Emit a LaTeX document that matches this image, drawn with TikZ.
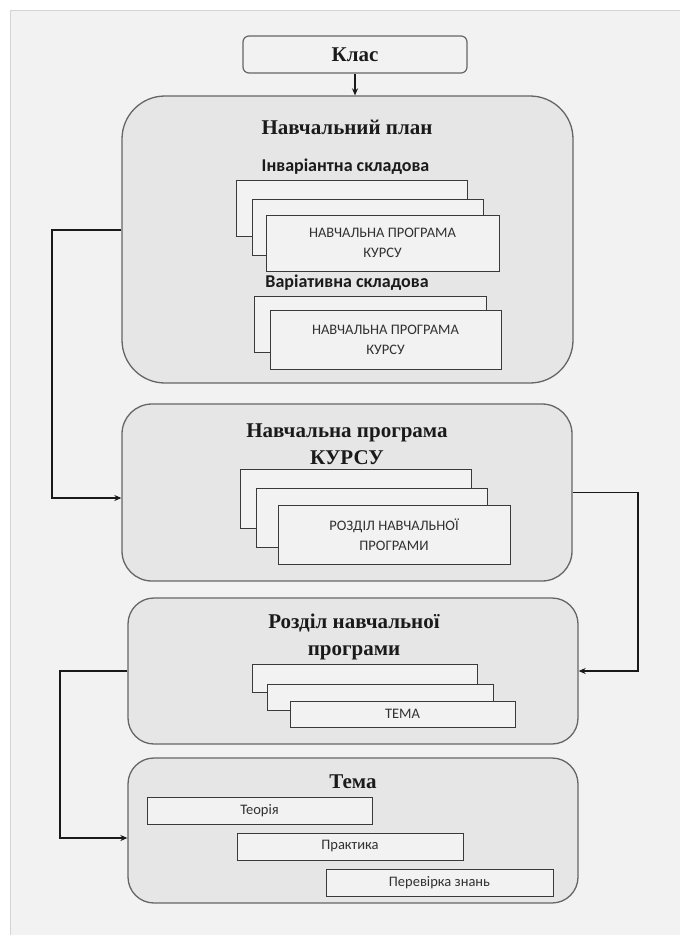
\documentclass[tikz,border=0pt]{standalone}
\usepackage{fontspec}
\setmainfont{Liberation Serif}
\newfontfamily\calib{Carlito}
\usetikzlibrary{arrows.meta}
\definecolor{panel}{HTML}{F2F2F2}
\definecolor{panelborder}{HTML}{D4D4D4}
\definecolor{bigfill}{HTML}{E6E6E6}
\definecolor{bigdraw}{HTML}{666666}
\definecolor{smallfill}{HTML}{F2F2F2}
\definecolor{smalldraw}{HTML}{3A3A3A}
\definecolor{txt}{HTML}{1A1A1A}
\tikzset{
  bigbox/.style={draw=bigdraw, fill=bigfill, line width=1.3pt, minimum width=#1, inner sep=0pt},
  smallbox/.style={draw=smalldraw, fill=smallfill, line width=1pt, inner sep=0pt, align=center,
     font=\calib\fontsize{14.5}{20}\selectfont, text=txt!90},
  titletext/.style={font=\bfseries\fontsize{21}{27}\selectfont, text=txt, align=center, inner sep=0pt},
  subtext/.style={font=\calib\bfseries\fontsize{18}{20}\selectfont, text=txt, inner sep=0pt},
  conn/.style={draw=black!90, line width=1.8pt, -{Stealth[length=7pt,width=6pt]}},
}
\begin{document}
\begin{tikzpicture}[x=1pt,y=-1pt]
\useasboundingbox (0,0) rectangle (680,935);
\fill[white] (0,0) rectangle (680,935);
\draw[panelborder, fill=panel, line width=1pt] (10,10) rectangle (700,960);

% top box
\node[draw=bigdraw, fill=smallfill, line width=1.2pt, rounded corners=6pt, minimum width=224pt, minimum height=37pt, inner sep=0pt,
      font=\bfseries\fontsize{21}{24}\selectfont, text=txt] (klas) at (355,54.5) {Клас};

% big boxes
\node[bigbox=451pt, minimum height=287pt, rounded corners=43pt] (B1) at (347.5,239.5) {};
\node[bigbox=450pt, minimum height=177pt, rounded corners=30pt] (B2) at (347,492.5) {};
\node[bigbox=450pt, minimum height=146pt, rounded corners=26pt] (B3) at (353,671) {};
\node[bigbox=450pt, minimum height=145pt, rounded corners=26pt] (B4) at (353,830.5) {};

% box 1 content
\node[titletext] (t1) at (347,127) {Навчальний план};
\node[subtext] (s1) at (345.5,167) {Інваріантна складова};
\node[smallbox, minimum width=231pt, minimum height=56pt] (A) at (351.5,208) {};
\node[smallbox, minimum width=231pt, minimum height=56pt] (Bb) at (367.5,227) {};
\node[smallbox, minimum width=233pt, minimum height=56pt] (C) at (382.5,243) {НАВЧАЛЬНА ПРОГРАМА\\КУРСУ};
\node[subtext] (s2) at (347,283) {Варіативна складова};
\node[smallbox, minimum width=232pt, minimum height=56pt] (D) at (370,324) {};
\node[smallbox, minimum width=231pt, minimum height=59pt] (E) at (385.5,339.5) {НАВЧАЛЬНА ПРОГРАМА\\КУРСУ};

% box 2 content
\node[titletext] (t2) at (347,444) {Навчальна програма\\КУРСУ};
\node[smallbox, minimum width=231pt, minimum height=59pt] (F) at (355.5,498.5) {};
\node[smallbox, minimum width=231pt, minimum height=59pt] (G) at (371.5,517.5) {};
\node[smallbox, minimum width=232pt, minimum height=59pt] (H) at (394,534.5) {РОЗДІЛ НАВЧАЛЬНОЇ\\ПРОГРАМИ};

% box 3 content
\node[titletext] (t3) at (354,637) {Розділ навчальної\\програми};
\node[smallbox, minimum width=225pt, minimum height=28pt] (I) at (364.5,678) {};
\node[smallbox, minimum width=226pt, minimum height=26pt] (J) at (380,697) {};
\node[smallbox, minimum width=225pt, minimum height=26pt] (K) at (402.5,714) {ТЕМА};

% box 4 content
\node[titletext] (t4) at (353,782) {Тема};
\node[smallbox, minimum width=225pt, minimum height=27pt] (th) at (259.5,810.5) {Теорія};
\node[smallbox, minimum width=226pt, minimum height=27pt] (pr) at (350,846.5) {Практика};
\node[smallbox, minimum width=227pt, minimum height=27pt] (pz) at (439.5,882.5) {Перевірка знань};

% connectors
\draw[conn, line width=1.5pt] (klas.south) -- (klas.south |- B1.north);
\draw[conn] ([yshift=9.5pt]B1.west) -- ++(-69,0) |- ([yshift=-5.5pt]B2.west);
\draw[conn] (B2.east) -- ++(65,0) |- (B3.east);
\draw[conn] (B3.west) -- ++(-67,0) |- ([yshift=-7.5pt]B4.west);
\end{tikzpicture}
\end{document}
